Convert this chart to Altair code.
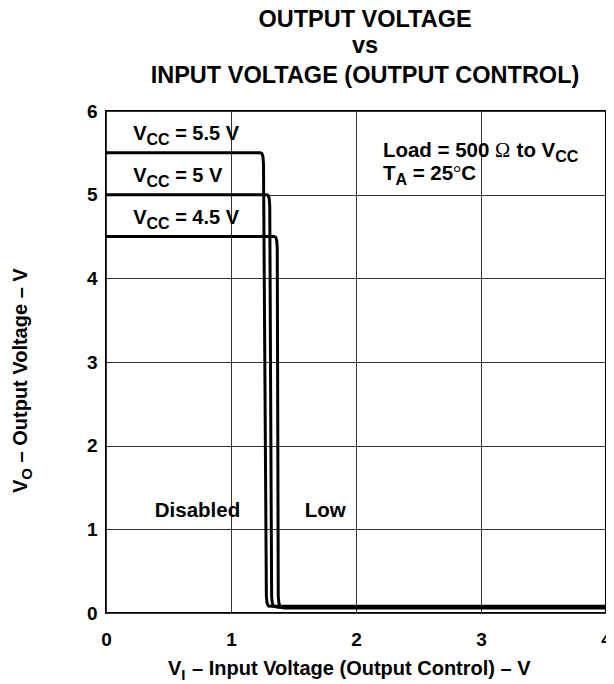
import altair as alt
import pandas as pd

# ---------------- data ----------------
series_names = ["VCC = 5.5 V", "VCC = 5 V", "VCC = 4.5 V"]
curve_55_x = [0.0, 1.235, 1.248, 1.256, 1.26, 1.283, 1.288, 1.298, 1.325, 4.0]
curve_55_y = [5.5, 5.5, 5.49, 5.45, 5.36, 0.2, 0.12, 0.085, 0.08, 0.08]
curve_50_x = [0.0, 1.285, 1.298, 1.306, 1.31, 1.325, 1.33, 1.34, 1.37, 4.0]
curve_50_y = [5.0, 5.0, 4.99, 4.95, 4.86, 0.2, 0.12, 0.08, 0.07, 0.07]
curve_45_x = [0.0, 1.345, 1.358, 1.366, 1.37, 1.378, 1.383, 1.393, 1.425, 4.0]
curve_45_y = [4.5, 4.5, 4.49, 4.45, 4.36, 0.2, 0.12, 0.07, 0.06, 0.06]

x_ticks = [0, 1, 2, 3, 4]
y_ticks = [0, 1, 2, 3, 4, 5, 6]

title_lines = ["OUTPUT VOLTAGE", "vs", "INPUT VOLTAGE (OUTPUT CONTROL)"]
vcc_values = ["5.5", "5", "4.5"]
vcc_label_y = [5.65, 5.15, 4.65]
region_labels = ["Disabled", "Low"]
region_x = [0.39, 1.59]
region_y = [1.15, 1.15]

FONT = "Liberation Sans"
SERIF = "Liberation Serif"

# Arial/Liberation Sans Bold advance widths (per 1000 em)
W = {" ": 278, "=": 584, ".": 278, "V": 667, "C": 722, "L": 611, "o": 611,
     "a": 556, "d": 611, "t": 333, "T": 611, "A": 722, "O": 778, "I": 278,
     "–": 556, "u": 611, "p": 611, "l": 278, "g": 611, "e": 556, "n": 611,
     "r": 389, "(": 333, ")": 333, "Ω": 768, "°": 400}
for ch in "0123456789":
    W[ch] = 556


def tw(s, size):
    return sum(W.get(c, 600) for c in s) * size / 1000.0


rows = []
for name, xs, ys in [(series_names[0], curve_55_x, curve_55_y),
                     (series_names[1], curve_50_x, curve_50_y),
                     (series_names[2], curve_45_x, curve_45_y)]:
    for i, (xv, yv) in enumerate(zip(xs, ys)):
        rows.append({"series": name, "idx": i, "x": xv, "y": yv})
curves = pd.DataFrame(rows)

xscale = alt.Scale(domain=[0, 4], nice=False, zero=False)
yscale = alt.Scale(domain=[0, 6], nice=False, zero=False)
xaxis = alt.Axis(values=x_ticks, title=None, grid=True, ticks=False, domain=False,
                 labelFont=FONT, labelFontWeight="bold", labelFontSize=19,
                 labelColor="black", labelPadding=17, labelFlush=False,
                 gridColor="#333", gridWidth=1, labelAngle=0)
yaxis = alt.Axis(values=y_ticks, title=None, grid=True, ticks=False, domain=False,
                 labelFont=FONT, labelFontWeight="bold", labelFontSize=19,
                 labelColor="black", labelPadding=9, labelFlush=False,
                 gridColor="#333", gridWidth=1)


def X():
    return alt.X("x:Q", scale=xscale, axis=xaxis)


def Y():
    return alt.Y("y:Q", scale=yscale, axis=yaxis)


lines = alt.Chart(curves).mark_line(color="black", strokeWidth=3, strokeJoin="round").encode(
    x=X(), y=Y(), detail="series:N", order="idx:Q")

layers = [lines]


def lead(text, size):
    """width of leading spaces (SVG collapses them) and stripped text"""
    s = text.lstrip(" ")
    return tw(text[:len(text) - len(s)], size), s


def data_text(text, xv, yv, dx=0, dy=0, size=20, font=FONT, weight="bold"):
    extra, s = lead(text, size)
    df = pd.DataFrame({"x": [xv], "y": [yv], "t": [s]})
    return alt.Chart(df).mark_text(
        align="left", baseline="alphabetic", dx=dx + extra, dy=dy, fontSize=size,
        font=font, fontWeight=weight, color="black").encode(x=X(), y=Y(), text="t:N")


def px_text(text, px, py, dx=0, dy=0, size=20, font=FONT, weight="bold",
            align="left", angle=0):
    extra, s = lead(text, size)
    df = pd.DataFrame({"t": [s]})
    kw = dict(align=align, baseline="alphabetic", dx=dx + extra, dy=dy, fontSize=size,
              font=font, fontWeight=weight, color="black")
    if angle:
        kw["angle"] = angle
    return alt.Chart(df).mark_text(**kw).encode(
        x=alt.value(px), y=alt.value(py), text="t:N")


# VCC labels
for v, ly in zip(vcc_values, vcc_label_y):
    x0 = 0.217
    d = 0
    layers.append(data_text("V", x0, ly, dx=d))
    d += tw("V", 20)
    layers.append(data_text("CC", x0, ly, dx=d, dy=5, size=16))
    d += tw("CC", 16)
    layers.append(data_text(" = " + v + " V", x0, ly, dx=d))

# Load / TA annotation
lx = 2.215
d = 0
layers.append(data_text("Load = 500 ", lx, 5.45, dx=d, size=20.5))
d += tw("Load = 500 ", 20.5)
layers.append(data_text("Ω", lx, 5.45, dx=d, size=20.5, font=SERIF, weight="normal"))
d += tw("Ω", 20.5)
layers.append(data_text(" to V", lx, 5.45, dx=d, size=20.5))
d += tw(" to V", 20.5)
layers.append(data_text("CC", lx, 5.45, dx=d, dy=5, size=16))

d = 0
layers.append(data_text("T", lx, 5.18, dx=d, size=20.5))
d += tw("T", 20.5)
layers.append(data_text("A", lx, 5.18, dx=d, dy=5, size=16))
d += tw("A", 16)
layers.append(data_text(" = 25", lx, 5.18, dx=d, size=20.5))
d += tw(" = 25", 20.5)
layers.append(data_text("°", lx, 5.18, dx=d, size=20.5, font=SERIF, weight="normal"))
d += tw("°", 20.5)
layers.append(data_text("C", lx, 5.18, dx=d, size=20.5))

# region labels
for t, rx, ry in zip(region_labels, region_x, region_y):
    layers.append(data_text(t, rx, ry, size=20.5))

# chart title (three lines, centred)
for t, py in zip(title_lines, [-84.3, -57.7, -28.3]):
    layers.append(px_text(t, 259, py, size=23.5, align="center"))

# x-axis title:  V_I – Input Voltage (Output Control) – V
d = 0
layers.append(px_text("V", 62, 564, dx=d))
d += tw("V", 20)
layers.append(px_text("I", 62, 564, dx=d, dy=5, size=15))
d += tw("I", 15) + 1
layers.append(px_text(" – Input Voltage (Output Control) – V", 62, 564, dx=d))

# y-axis title (rotated):  V_O – Output Voltage – V
d = 0
layers.append(px_text("V", -79, 382, dx=d, angle=270))
d += tw("V", 20)
layers.append(px_text("O", -79, 382, dx=d, dy=5, size=15, angle=270))
d += tw("O", 15)
layers.append(px_text(" – Output Voltage – V", -79, 382, dx=d, angle=270))

chart = alt.layer(*layers).properties(
    width=500, height=502,
    autosize=alt.AutoSizeParams(type="none"),
    padding={"left": 98, "top": 103, "right": 0, "bottom": 70},
    background="white",
).configure_view(stroke="black", strokeWidth=2)

chart.save("out.html", embed_options={"renderer": "svg", "actions": False})
